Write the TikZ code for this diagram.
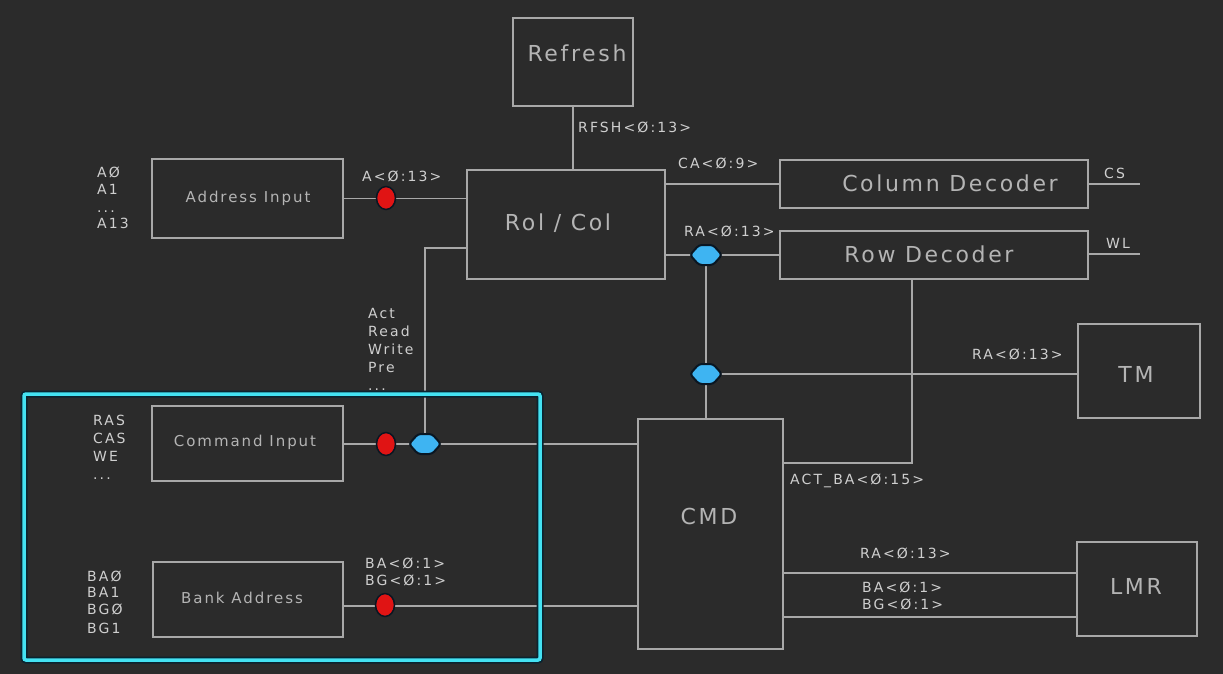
\documentclass[tikz,border=0pt]{standalone}
\usepackage{fontspec}
\setmainfont{DejaVu Sans}
\newfontfamily\cadS[LetterSpace=15]{DejaVu Sans}
\newfontfamily\cadM[LetterSpace=13]{DejaVu Sans}
\newfontfamily\cadL[LetterSpace=12]{DejaVu Sans}
\usetikzlibrary{calc,shapes.geometric}
\newcommand\threedots{...}
\definecolor{bgc}{HTML}{2B2B2B}
\definecolor{linec}{HTML}{A8A8A8}
\definecolor{labc}{HTML}{CFCFCF}
\definecolor{titc}{HTML}{B4B4B4}
\definecolor{dotred}{HTML}{E01414}
\definecolor{dotblue}{HTML}{3EB4F2}
\definecolor{dotdark}{HTML}{0A1622}
\definecolor{cyanc}{HTML}{44E2F2}
\definecolor{cyandark}{HTML}{0A2430}
\tikzset{
  blk/.style={draw=linec, line width=1.3, inner sep=0, fill=none},
  wire/.style={draw=linec, line width=1.3},
  lab/.style={text=labc, inner sep=0, anchor=west, font=\cadS\fontsize{14}{16}\selectfont, text height=10, text depth=0},
  titM/.style={text=titc, inner sep=0, anchor=center, font=\cadM\fontsize{15}{17}\selectfont, text height=11, text depth=0},
  titL/.style={text=titc, inner sep=0, anchor=center, font=\cadL\fontsize{22}{24}\selectfont, text height=16, text depth=0},
  reddot/.style={ellipse, fill=dotred, draw=dotdark, line width=1.5, minimum width=19, minimum height=23, inner sep=0},
  bluem/.style={fill=dotblue, draw=dotdark, line width=2, rounded corners=3},
}
\newcommand\hexmark[1]{%
  \draw[bluem] ($(#1)+(-16,0)$) -- ($(#1)+(-7,-10)$) -- ($(#1)+(7,-10)$) --
    ($(#1)+(16,0)$) -- ($(#1)+(7,10)$) -- ($(#1)+(-7,10)$) -- cycle;}
\begin{document}
\begin{tikzpicture}[x=1pt,y=-1pt]
\useasboundingbox (0,0) rectangle (1223,674);
\fill[bgc] (0,0) rectangle (1223,674);

% blocks
\node[blk, minimum width=120, minimum height=88] (refresh) at (573,62) {};
\node[blk, minimum width=198, minimum height=109] (rolcol) at (566,224.5) {};
\node[blk, minimum width=191, minimum height=79] (addr) at (247.5,198.5) {};
\node[blk, minimum width=308, minimum height=48] (coldec) at (934,184) {};
\node[blk, minimum width=308, minimum height=48] (rowdec) at (934,255) {};
\node[blk, minimum width=122, minimum height=94] (tm) at (1139,371) {};
\node[blk, minimum width=145, minimum height=230] (cmd) at (710.5,534) {};
\node[blk, minimum width=120, minimum height=94] (lmr) at (1137,589) {};
\node[blk, minimum width=191, minimum height=75] (cmdin) at (247.5,443.5) {};
\node[blk, minimum width=190, minimum height=75] (bank) at (248,599.5) {};

% titles
\node[titL] (t-refresh) at (577,54) {Refresh};
\node[titL] (t-rolcol) at (558,222) {Rol / Col};
\node[titL] (t-coldec) at (950,183) {Column Decoder};
\node[titL] (t-rowdec) at (929,254) {Row Decoder};
\node[titM] (t-addr) at (248,197) {Address Input};
\node[titM] (t-cmdin) at (245,441) {Command Input};
\node[titM] (t-bank) at (242,598) {Bank Address};
\node[titL] (t-cmd) at (709,516) {CMD};
\node[titL] (t-tm) at (1136,374) {TM};
\node[titL] (t-lmr) at (1136,586) {LMR};

% helper coordinates
\coordinate (j1) at (706,255);
\coordinate (j2) at (706,374);
\coordinate (j3) at (425,444);
\coordinate (k1) at (912,463);
\coordinate (k2) at (425,248);
\coordinate (csend) at (1140,184);
\coordinate (wlend) at (1140,254);
\coordinate (bl) at (0,606);
\coordinate (l1) at (0,573);
\coordinate (l2) at (0,617);

% connectors
\draw[wire] (refresh.south) -- (refresh.south |- rolcol.north);
\draw[wire] (addr.east) -- (addr.east -| rolcol.west);
\draw[wire] (rolcol.east |- coldec.west) -- (coldec.west);
\draw[wire] (rolcol.east |- rowdec.west) -- (rowdec.west);
\draw[wire] (coldec.east) -- (csend);
\draw[wire] (rowdec.east |- wlend) -- (wlend);
\draw[wire] (j1) -- (j1 |- cmd.north);
\draw[wire] (j2) -- (j2 -| tm.west);
\draw[wire] (rowdec.south -| k1) -- (k1) -- (k1 -| cmd.east);
\draw[wire] (cmdin.east |- j3) -- (j3 -| cmd.west);
\draw[wire] (j3) -- (k2) -- (k2 -| rolcol.west);
\draw[wire] (bank.east |- bl) -- (cmd.west |- bl);
\draw[wire] (cmd.east |- l1) -- (lmr.west |- l1);
\draw[wire] (cmd.east |- l2) -- (lmr.west |- l2);

% cyan highlight
\draw[cyandark, line width=7, rounded corners=2] (24,394) rectangle (540,660);
\draw[cyanc, line width=3.5, rounded corners=2] (24,394) rectangle (540,660);

% markers
\node[reddot] (r1) at (386,198) {};
\node[reddot] (r2) at (386,444) {};
\node[reddot] (r3) at (385,605) {};
\hexmark{j1}
\hexmark{j2}
\hexmark{j3}

% labels
\foreach \x/\y/\t [count=\i] in {
  578/128/RFSH<Ø:13>, 362/176/A<Ø:13>, 678/163/CA<Ø:9>, 1104/173/CS,
  684/231/RA<Ø:13>, 1106/243/WL, 972/354/RA<Ø:13>, 790/479/ACT\_BA<Ø:15>,
  368/313/Act, 368/331/Read, 368/349/Write, 368/367/Pre, 368/385/\threedots,
  97/172/AØ, 97/189/A1, 97/207/\threedots, 97/223/A13,
  93/420/RAS, 93/438/CAS, 93/456/WE, 93/474/\threedots,
  87/576/BAØ, 87/592/BA1, 87/609/BGØ, 87/628/BG1,
  365/563/BA<Ø:1>, 365/580/BG<Ø:1>,
  860/553/RA<Ø:13>, 862/587/BA<Ø:1>, 862/604/BG<Ø:1>}
  \node[lab] (lbl\i) at (\x,\y) {\t};
\end{tikzpicture}
\end{document}
